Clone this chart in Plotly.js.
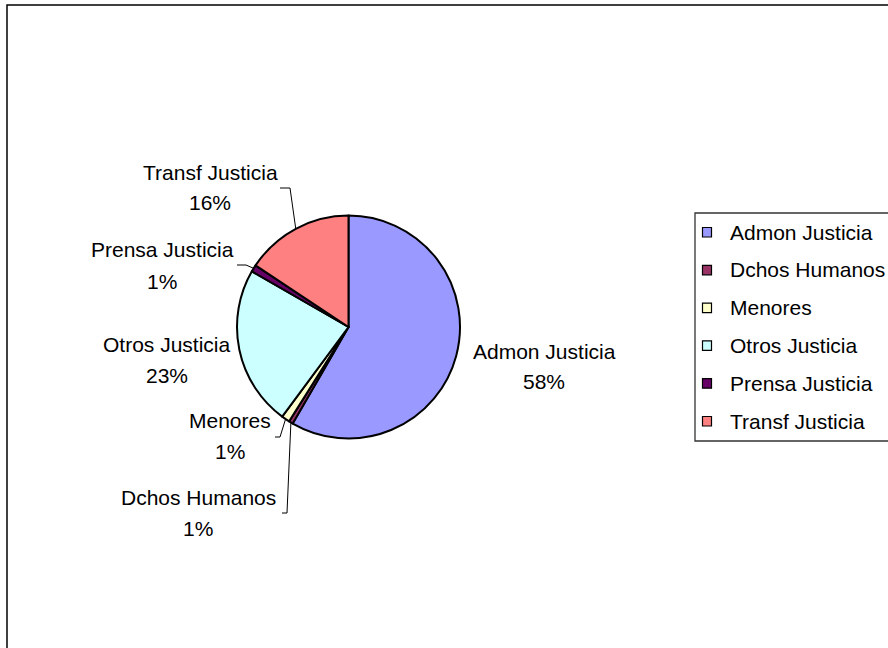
<!DOCTYPE html>
<html>
<head>
<meta charset="utf-8">
<script src="https://cdn.plot.ly/plotly-3.0.1.min.js"></script>
<style>html,body{margin:0;padding:0;background:#fff;}#chart{width:888px;height:648px;}</style>
</head>
<body>
<div id="chart"></div>
<script>
// ---- data ----
const labels = ['Admon Justicia', 'Dchos Humanos', 'Menores', 'Otros Justicia', 'Prensa Justicia', 'Transf Justicia'];
const values = [58.4, 0.6, 1.2, 23.2, 1.0, 15.7];
const colors = ['#9999FF', '#993366', '#FFFFCC', '#CCFFFF', '#660066', '#FF8080'];

// ---- layout config (pixels) ----
const W = 888, H = 648;
const pieCenter = [348.5, 327], pieR = 111.5;
const labelPos = [[544, 351], [198, 497], [230, 420], [167, 344], [162, 250], [210, 172]];
const leaderFrom = [null, [[282, 513], [287, 513]], [[275, 437], [280, 437]], null, [[237, 265], [246, 265]], [[280, 188], [290, 188]]];
const FONT = 'Liberation Sans, Arial, sans-serif';
const FS = 21;

const px = x => x / W;
const py = y => 1 - y / H;

const domain = {
  x: [px(pieCenter[0] - pieR), px(pieCenter[0] + pieR)],
  y: [py(pieCenter[1] + pieR), py(pieCenter[1] - pieR)]
};

const total = values.reduce((a, b) => a + b, 0);
const annotations = [];
const shapes = [];

// frame
shapes.push({type: 'rect', xref: 'paper', yref: 'paper', x0: px(7), x1: px(W + 10), y0: py(H + 10), y1: py(5),
  line: {color: '#000', width: 1.5}, fillcolor: 'rgba(0,0,0,0)', layer: 'below'});

// data labels & leader lines
let cum = 0;
values.forEach((v, i) => {
  const mid = (cum + v / 2) / total * 2 * Math.PI;
  cum += v;
  const ex = pieCenter[0] + pieR * Math.sin(mid);
  const ey = pieCenter[1] - pieR * Math.cos(mid);
  const pct = Math.round(v / total * 100) + '%';
  const [lx, ly] = labelPos[i];
  annotations.push({xref: 'paper', yref: 'paper', x: px(lx), y: py(ly), text: labels[i], showarrow: false,
    xanchor: 'center', yanchor: 'middle', font: {family: FONT, size: FS, color: '#000'}});
  annotations.push({xref: 'paper', yref: 'paper', x: px(lx), y: py(ly + 31), text: pct, showarrow: false,
    xanchor: 'center', yanchor: 'middle', font: {family: FONT, size: FS, color: '#000'}});
  if (leaderFrom[i]) {
    const pts = leaderFrom[i].concat([[ex, ey]]);
    const path = pts.map((p, k) => (k ? 'L' : 'M') + px(p[0]) + ',' + py(p[1])).join(' ');
    shapes.push({type: 'path', xref: 'paper', yref: 'paper', path: path, line: {color: '#000', width: 1}});
  }
});

// legend
const legBox = {x0: 695, y0: 213, x1: W + 10, y1: 441};
shapes.push({type: 'rect', xref: 'paper', yref: 'paper', x0: px(legBox.x0), x1: px(legBox.x1), y0: py(legBox.y1), y1: py(legBox.y0),
  line: {color: '#333', width: 1.3}, fillcolor: '#fff'});
const rowY0 = 232, rowStep = 37.8;
labels.forEach((lab, i) => {
  const y = rowY0 + i * rowStep;
  shapes.push({type: 'rect', xref: 'paper', yref: 'paper', x0: px(702.5), x1: px(711.5), y0: py(y + 5), y1: py(y - 4.5),
    line: {color: '#000', width: 1.2}, fillcolor: colors[i]});
  annotations.push({xref: 'paper', yref: 'paper', x: px(728), y: py(y), text: lab, showarrow: false,
    xanchor: 'left', yanchor: 'middle', font: {family: FONT, size: FS, color: '#000'}});
});

const trace = {
  type: 'pie',
  labels: labels,
  values: values,
  sort: false,
  direction: 'clockwise',
  rotation: 0,
  textinfo: 'none',
  showlegend: false,
  marker: {colors: colors, line: {color: '#000', width: 2}},
  domain: domain
};

const layout = {
  width: W, height: H,
  margin: {l: 0, r: 0, t: 0, b: 0},
  paper_bgcolor: '#fff',
  showlegend: false,
  annotations: annotations,
  shapes: shapes,
  font: {family: FONT, size: FS, color: '#000'}
};

Plotly.newPlot('chart', [trace], layout, {displayModeBar: false, staticPlot: true});
</script>
</body>
</html>
